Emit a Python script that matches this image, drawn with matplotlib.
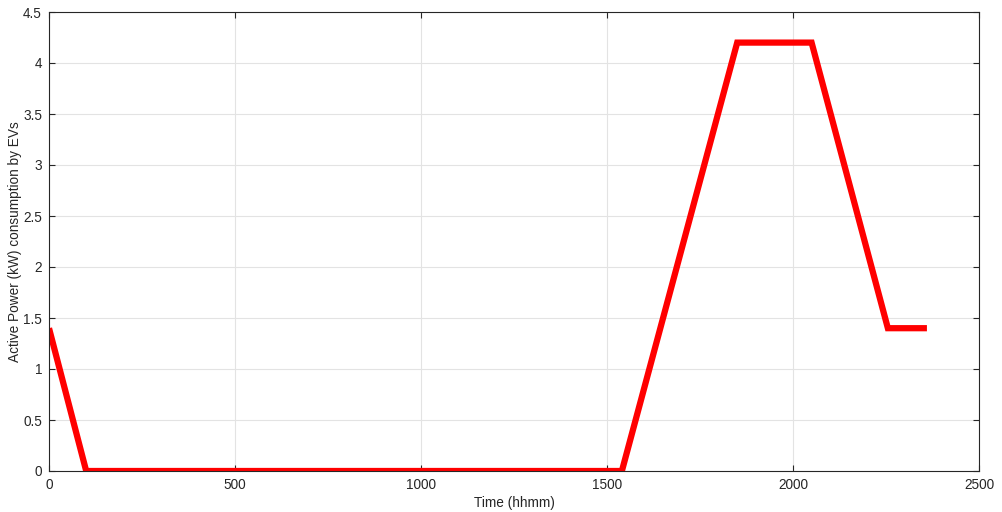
import matplotlib
matplotlib.use('agg')
import matplotlib.pyplot as plt

# EV charging profile over the day
time_hhmm = [0, 100, 1540, 1850, 2050, 2255, 2360]
power_kw = [1.4, 0, 0, 4.2, 4.2, 1.4, 1.4]

plt.rcParams['font.family'] = ['Liberation Sans', 'DejaVu Sans']
plt.rcParams['font.size'] = 9.8

fig = plt.figure(figsize=(10.03, 5.12), dpi=100)
ax = fig.add_axes([49/1003, 41/512, 930/1003, 459/512])

ax.plot(time_hhmm, power_kw, color=(1, 0, 0), linewidth=4.5, solid_joinstyle='miter', solid_capstyle='butt')

ax.set_xlim(0, 2500)
ax.set_ylim(0, 4.5)
ax.set_xticks(range(0, 2501, 500))
ax.set_yticks([0, 0.5, 1, 1.5, 2, 2.5, 3, 3.5, 4, 4.5])
ax.set_yticklabels(['0', '0.5', '1', '1.5', '2', '2.5', '3', '3.5', '4', '4.5'])
ax.grid(True, color='#e3e3e3', linewidth=0.8)
ax.set_axisbelow(True)
ax.tick_params(direction='in', length=4, pad=5, top=True, right=True, colors='#262626', labelcolor='#262626')
for s in ax.spines.values():
    s.set_color('#262626')
    s.set_linewidth(0.8)

ax.set_xlabel('Time (hhmm)', color='#262626', labelpad=3)
ax.set_ylabel('Active Power (kW) consumption by EVs', color='#262626')
ax.yaxis.set_label_coords(-0.0285, 0.5)

plt.savefig('out.png')
plt.close()
